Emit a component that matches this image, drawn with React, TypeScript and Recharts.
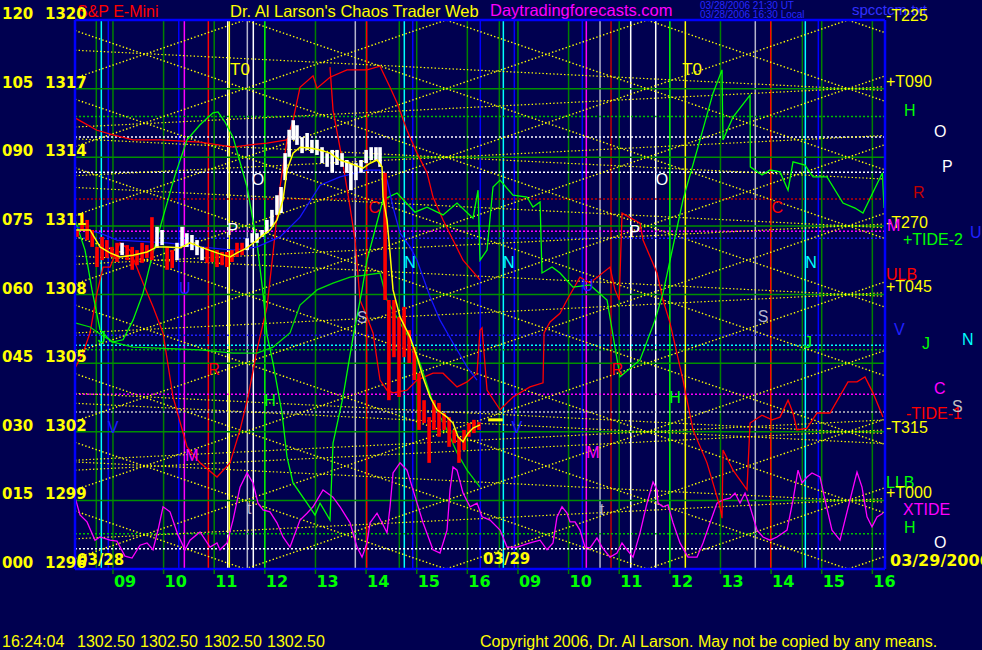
import React from 'react';
import { ComposedChart, XAxis, YAxis, Line, ReferenceLine, Scatter } from 'recharts';

const FONT = '"Liberation Sans", Arial, sans-serif';
const BOLD = '"DejaVu Sans", sans-serif';
const BG = '#000050';
const T_LEFT = 8.25;
const T_RIGHT = 24.25;

// ---- axes ----
const hourTicks = [9, 10, 11, 12, 13, 14, 15, 16, 17, 18, 19, 20, 21, 22, 23, 24];
const hourLabels = ['09', '10', '11', '12', '13', '14', '15', '16', '09', '10', '11', '12', '13', '14', '15', '16'];
const noonTicks = [12, 20];
const levels = [0, 15, 30, 45, 60, 75, 90, 105, 120];
const levelCodes = ['000', '015', '030', '045', '060', '075', '090', '105', '120'];
const levelPrices = ['1296', '1299', '1302', '1305', '1308', '1311', '1314', '1317', '1320'];
const levelTags = ['', '+T000', '-T315', '', '+T045', '-T270', '', '+T090', '-T225'];

// ---- price bars: [time, low, high, up] ----
const candles: [number, number, number, number][] = [
  [8.29, 72.6, 74.1, 0], [8.39, 74.1, 77.6, 0], [8.49, 71.9, 76.3, 0], [8.59, 70.4, 74.1, 0],
  [8.685, 66.0, 70.4, 0], [8.785, 67.5, 72.6, 0], [8.88, 68.0, 71.9, 0], [8.98, 68.2, 70.4, 0],
  [9.08, 67.1, 71.3, 0], [9.18, 68.6, 71.3, 1], [9.28, 67.5, 70.8, 0], [9.38, 65.4, 70.4, 0],
  [9.475, 66.4, 69.7, 0], [9.575, 66.9, 71.3, 0], [9.67, 68.0, 70.8, 0], [9.77, 67.5, 76.9, 0],
  [9.87, 70.2, 74.8, 1], [9.97, 70.8, 74.1, 1], [10.07, 65.4, 70.4, 0], [10.17, 65.8, 69.7, 0],
  [10.265, 67.5, 71.3, 1], [10.365, 70.4, 74.8, 1], [10.46, 70.4, 73.4, 1], [10.56, 69.7, 73.0, 1],
  [10.66, 68.6, 71.9, 1], [10.76, 67.5, 70.4, 1], [10.86, 66.9, 70.4, 0], [10.96, 67.1, 69.7, 0],
  [11.055, 66.0, 69.7, 0], [11.155, 66.4, 69.3, 0], [11.25, 66.0, 69.3, 0], [11.35, 67.1, 69.7, 0],
  [11.45, 68.2, 71.3, 0], [11.55, 68.6, 71.3, 0], [11.65, 69.7, 72.3, 1], [11.75, 71.3, 73.4, 1],
  [11.845, 71.3, 73.4, 1], [11.945, 72.6, 74.1, 1], [12.04, 73.4, 76.3, 1], [12.14, 74.8, 78.5, 1],
  [12.24, 77.4, 81.7, 1], [12.32, 77.8, 83.5, 1], [12.4, 85.0, 90.9, 1], [12.48, 90.1, 96.0, 1],
  [12.56, 93.8, 98.1, 1], [12.635, 92.7, 97.0, 1], [12.735, 90.9, 94.4, 1], [12.835, 91.6, 95.3, 1],
  [12.93, 90.9, 93.8, 1], [13.03, 90.5, 93.8, 1], [13.13, 88.7, 92.2, 1], [13.23, 87.9, 90.9, 1],
  [13.33, 86.6, 91.6, 1], [13.425, 88.3, 91.6, 1], [13.525, 87.9, 90.9, 1], [13.62, 86.6, 89.4, 1],
  [13.7, 82.8, 88.7, 1], [13.8, 85.0, 88.7, 1], [13.9, 86.6, 89.4, 1], [14.0, 88.7, 91.6, 1],
  [14.1, 89.4, 92.2, 1], [14.195, 89.4, 92.2, 1], [14.275, 87.9, 92.2, 1], [14.375, 58.8, 86.6, 0],
  [14.45, 36.9, 58.8, 0], [14.55, 46.3, 58.8, 0], [14.65, 37.6, 55.1, 0], [14.75, 46.3, 57.3, 0],
  [14.85, 45.0, 52.2, 0], [14.95, 41.3, 48.5, 0], [15.045, 30.4, 42.8, 0], [15.145, 31.9, 36.9, 0],
  [15.245, 23.2, 33.2, 0], [15.34, 30.4, 36.9, 0], [15.44, 28.9, 36.3, 0], [15.54, 30.4, 34.1, 0],
  [15.64, 26.7, 33.2, 0], [15.74, 27.5, 30.4, 0], [15.835, 23.2, 28.9, 0], [15.935, 26.0, 30.4, 0],
  [16.03, 28.9, 31.9, 0], [16.13, 29.7, 32.6, 0], [16.23, 30.4, 32.1, 0],
];

// ---- series: [time, value] ----
const smoothPrice: [number, number][] = [
  [8.25, 74.1], [8.547, 74.1], [8.744, 70.4], [8.942, 69.1], [9.139, 68.2], [9.396, 68.6], [9.673, 69.3],
  [9.87, 70.4], [10.068, 70.4], [10.325, 70.2], [10.522, 71.3], [10.72, 70.4], [11.055, 69.1], [11.312, 68.2],
  [11.45, 69.1], [11.648, 70.2], [11.845, 71.9], [11.964, 73.0], [12.102, 74.1], [12.24, 76.3], [12.359, 80.7],
  [12.438, 87.2], [12.557, 90.9], [12.695, 92.2], [12.892, 92.0], [13.09, 91.6], [13.287, 90.9], [13.485, 89.4],
  [13.683, 88.7], [13.939, 87.6], [14.078, 88.7], [14.216, 89.4], [14.315, 87.9], [14.334, 81.3], [14.413, 76.3],
  [14.473, 69.1], [14.532, 61.0], [14.67, 55.1], [14.868, 50.7], [15.006, 46.3], [15.125, 41.9], [15.263, 37.6],
  [15.401, 34.8], [15.599, 33.2], [15.717, 31.9], [15.816, 28.9], [15.915, 27.8], [16.013, 29.7], [16.112, 30.8],
  [16.25, 31.5],
];
const tide2: [number, number][] = [
  [8.25, 76.3], [8.448, 69.7], [8.586, 61.0], [8.744, 52.3], [8.981, 49.6], [9.199, 50.1], [9.396, 54.4],
  [9.594, 60.3], [9.791, 69.1], [9.989, 76.9], [10.226, 86.1], [10.463, 93.8], [10.72, 97.1], [10.976, 99.7],
  [11.075, 99.9], [11.213, 97.7], [11.371, 94.4], [11.648, 83.5], [11.845, 71.3], [11.964, 60.3], [12.043, 51.1],
  [12.162, 45.0], [12.339, 34.1], [12.438, 24.5], [12.557, 18.8], [12.833, 14.4], [12.991, 11.8], [13.09, 14.4],
  [13.287, 10.7], [13.347, 27.5], [13.544, 37.6], [13.742, 50.7], [13.92, 61.0], [14.018, 67.5], [14.334, 80.7],
  [14.611, 82.2], [14.966, 78.0], [15.204, 79.1], [15.52, 77.4], [15.796, 80.0], [16.112, 76.7], [16.211, 82.8],
  [16.25, 67.5], [16.389, 69.7], [16.507, 83.5], [16.646, 85.0], [16.902, 81.7], [17.179, 81.3], [17.297, 79.1],
  [17.436, 80.2], [17.475, 64.7], [17.673, 66.0], [17.831, 64.7], [18.087, 61.6], [18.423, 62.1], [18.759, 58.8],
  [19.016, 42.0], [19.411, 45.7], [19.707, 54.4], [19.865, 60.3], [20.26, 80.7], [20.596, 93.8], [20.853, 104.0],
  [21.031, 109.1], [21.04, 101.0], [21.05, 93.8], [21.248, 98.8], [21.584, 103.6], [21.59, 87.9], [21.821, 86.1],
  [21.979, 87.2], [22.176, 86.8], [22.335, 82.8], [22.433, 89.0], [22.67, 88.3], [22.828, 85.7], [23.104, 85.7],
  [23.42, 80.0], [23.658, 78.9], [23.815, 77.8], [24.2, 86.6], [24.23, 78.9],
];
const llb: [number, number][] = [
  [8.25, 53.8], [8.547, 52.9], [8.685, 51.8], [9.001, 49.6], [9.396, 48.5], [10.72, 47.9], [11.371, 47.2],
  [11.845, 47.2], [12.162, 48.5], [12.497, 51.6], [12.695, 57.7], [13.031, 61.0], [13.347, 62.5], [13.683, 63.8],
  [14.275, 64.7], [14.413, 58.8], [14.67, 53.8], [14.868, 50.1], [15.065, 45.0], [15.322, 36.3], [15.599, 30.4],
  [15.796, 25.4], [15.994, 21.6], [16.25, 17.9],
];
const tide1a: [number, number][] = [
  [8.25, 43.9], [8.408, 47.2], [8.547, 51.6], [8.685, 60.3], [8.804, 66.0], [8.942, 66.0], [9.139, 71.3],
  [9.337, 69.7], [9.594, 62.5], [9.791, 57.3], [9.989, 51.6], [10.186, 37.6], [10.463, 26.7], [10.72, 23.2],
  [11.055, 20.1], [11.312, 23.2], [11.51, 30.4], [11.668, 37.6], [11.845, 47.9], [12.043, 57.3], [12.162, 69.1],
  [12.3, 83.5], [12.438, 93.8], [12.557, 98.1], [12.695, 105.3], [12.952, 107.8], [13.031, 105.1], [13.287, 107.5],
  [13.623, 109.1], [14.018, 109.1], [14.275, 109.9], [14.473, 105.3], [14.611, 101.9], [14.808, 95.9],
  [15.006, 90.9], [15.204, 86.6], [15.322, 81.3], [15.52, 76.3], [15.717, 71.9], [15.915, 67.5], [16.25, 63.2],
];
const ulb: [number, number][] = [
  [8.25, 98.6], [8.685, 95.9], [9.001, 94.9], [9.396, 93.8], [9.93, 93.8], [10.72, 93.3], [11.371, 92.2],
  [11.707, 92.7], [12.043, 93.1], [12.438, 93.8],
];
const tide1b: [number, number][] = [
  [13.287, 109.7], [13.347, 100.3], [13.544, 88.5], [13.683, 79.1], [13.782, 71.9], [13.88, 58.8], [14.018, 55.1],
  [14.137, 51.6], [14.275, 41.3], [14.413, 39.1], [14.532, 38.5], [14.808, 39.1], [15.006, 41.3], [15.322, 42.8],
  [15.52, 42.8], [15.796, 39.8], [15.994, 40.9], [16.191, 42.8], [16.25, 52.2], [16.29, 52.7], [16.389, 39.1],
  [16.646, 34.8], [16.902, 37.6], [17.238, 39.8], [17.495, 40.7], [17.515, 51.6], [17.633, 54.0], [17.831, 55.9],
  [17.969, 58.8], [18.225, 63.8], [18.423, 62.5], [18.818, 66.0], [18.917, 61.0], [19.0, 58.8], [19.056, 77.8],
  [19.411, 75.6], [19.47, 71.9], [19.747, 64.7], [19.865, 58.8], [20.003, 53.8], [20.26, 41.3], [20.458, 30.4],
  [20.734, 23.2], [20.991, 13.6], [21.031, 11.1], [21.05, 26.0], [21.248, 21.6], [21.524, 17.3], [21.584, 31.9],
  [21.821, 33.6], [22.018, 32.6], [22.176, 33.2], [22.335, 36.9], [22.433, 34.1], [22.512, 30.4], [22.71, 30.8],
  [22.907, 34.1], [23.164, 34.1], [23.519, 40.9], [23.697, 40.9], [23.855, 42.0], [24.013, 38.5], [24.21, 33.2],
];
const blueCycle: [number, number][] = [
  [8.25, 74.8], [8.744, 73.4], [9.08, 71.9], [10.068, 71.3], [10.72, 70.4], [11.371, 69.7], [11.845, 70.4],
  [12.3, 72.6], [12.695, 76.9], [13.09, 83.9], [13.485, 85.7], [14.018, 87.2], [14.275, 87.2], [14.413, 85.0],
  [14.532, 79.1], [14.67, 73.4], [14.868, 70.4], [15.006, 67.5], [15.125, 63.8], [15.263, 59.5], [15.46, 54.4],
  [15.717, 49.4], [15.994, 44.2], [16.191, 41.3],
];
const xtide: [number, number][] = [
  [8.25, 15.7], [8.349, 11.8], [8.487, 10.3], [8.645, 6.3], [8.744, 7.0], [8.942, 6.3], [9.08, 6.1], [9.238, 2.8],
  [9.376, 2.4], [9.534, 5.2], [9.673, 5.7], [9.791, 4.2], [9.89, 8.5], [9.989, 13.6], [10.127, 12.5], [10.285, 7.4],
  [10.423, 4.2], [10.522, 6.3], [10.72, 8.1], [10.917, 4.8], [11.055, 5.7], [11.115, 4.2], [11.253, 5.7],
  [11.371, 10.7], [11.51, 17.9], [11.648, 21.0], [11.766, 18.8], [11.865, 14.4], [11.964, 12.9], [12.102, 12.5],
  [12.24, 10.1], [12.359, 7.0], [12.497, 4.8], [12.695, 10.7], [12.833, 12.2], [12.952, 13.6], [13.149, 17.3],
  [13.347, 15.7], [13.485, 13.6], [13.683, 10.1], [13.821, 4.8], [13.92, 2.6], [14.018, 5.7], [14.078, 10.1],
  [14.216, 12.2], [14.315, 10.1], [14.413, 7.9], [14.473, 13.6], [14.532, 21.0], [14.67, 23.2], [14.808, 21.6],
  [14.927, 17.3], [15.125, 10.1], [15.322, 4.2], [15.46, 3.5], [15.599, 8.5], [15.658, 17.3], [15.717, 22.3],
  [15.796, 21.6], [15.915, 16.6], [16.053, 13.6], [16.191, 14.4], [16.29, 11.4], [16.448, 10.7], [16.646, 8.5],
  [16.784, 4.8], [16.981, 4.8], [17.238, 5.7], [17.436, 6.3], [17.574, 4.2], [17.692, 5.7], [17.771, 11.4],
  [17.87, 13.6], [17.969, 12.2], [18.028, 10.3], [18.127, 10.3], [18.225, 8.5], [18.324, 4.8], [18.423, 4.6],
  [18.561, 6.8], [18.66, 4.8], [18.818, 2.6], [18.956, 3.5], [19.055, 5.7], [19.154, 4.2], [19.273, 2.6],
  [19.411, 7.9], [19.549, 14.4], [19.668, 19.0], [19.747, 17.3], [19.766, 14.4], [19.865, 13.6], [19.964, 14.0],
  [20.063, 10.1], [20.2, 5.7], [20.359, 2.6], [20.537, 2.6], [20.655, 5.7], [20.794, 10.1], [20.932, 14.4],
  [21.05, 15.1], [21.189, 15.5], [21.287, 16.6], [21.386, 14.4], [21.485, 16.6], [21.584, 13.6], [21.722, 8.5],
  [21.84, 7.0], [21.979, 6.3], [22.117, 7.0], [22.315, 8.5], [22.433, 15.1], [22.532, 21.6], [22.611, 18.8],
  [22.71, 20.1], [22.808, 21.0], [22.966, 20.1], [23.065, 15.1], [23.203, 8.5], [23.361, 6.3], [23.559, 15.1],
  [23.697, 21.2], [23.796, 17.9], [23.895, 11.4], [23.993, 9.2], [24.092, 11.4], [24.21, 12.2],
];

// ---- time lines (vertical) ----
const darkGreenTimes = [8.671, 14.656, 16.632, 22.617];
const cyanTimes = [8.77, 14.755, 16.711, 22.676];
const blueTimes = [8.908, 10.3, 14.921, 16.256, 16.928, 18.271, 22.933];
const magentaTimes = [10.41, 18.35];
const redTimes = [10.884, 14.012, 21.993];
const darkRedTimes = [18.838];
const whiteTimes = [11.267, 11.772, 19.227, 19.721];
const grayTimes = [11.654, 13.787, 18.621, 21.688];
const t0Times = [11.298, 20.306];

// ---- planet price levels (horizontal) ----
const greenLevels = [98.9, 47.9, 7.7];
const greenNames = ['H', 'J', 'H'];
const whiteLevels = [94.4, 86.7, 4.4];
const whiteNames = ['O', 'P', 'O'];
const redLevels = [80.9];
const redNames = ['R'];
const magentaLevels = [73.8, 38.2];
const magentaNames = ['M', 'C'];
const blueLevels = [72.3, 51.1];
const blueNames = ['U', 'V'];
const cyanLevels = [48.9];
const cyanNames = ['N'];
const grayLevels = [34.3];
const grayNames = ['S'];

// ---- time/price lattice: [value at left edge, value at right edge] ----
const risingLines: [number, number][] = [
  [-57.69, 2.76], [-42.69, 17.76], [-27.69, 32.76], [-12.69, 47.76], [2.31, 62.76], [17.31, 77.76],
  [32.31, 92.76], [47.31, 107.76], [62.31, 122.76], [77.31, 137.76], [92.31, 152.76], [107.31, 167.76],
];
const fallingLines: [number, number][] = [
  [12.69, -47.76], [27.69, -32.76], [42.69, -17.76], [57.69, -2.76], [72.69, 12.24], [87.69, 27.24],
  [102.69, 42.24], [117.69, 57.24], [132.69, 72.24], [147.69, 87.24], [162.69, 102.24], [177.69, 117.24],
];
const shallowLines: [number, number][] = [
  [96.6, 105.4], [113.4, 104.6], [66.6, 75.4], [83.4, 74.6], [51.6, 60.4], [68.4, 59.6],
  [21.6, 30.4], [38.4, 29.6], [6.6, 15.4], [23.4, 14.6], [85.97, 94.77], [94.03, 85.23],
  [23.78, 32.58], [36.22, 27.42],
];

// ---- chart letters ----
type Mark = { t: number; v: number; s: string };
const yellowMarks: Mark[] = [{ t: 11.51, v: 109.1, s: 'T0' }, { t: 20.44, v: 109.1, s: 'T0' }];
const whiteMarks: Mark[] = [
  { t: 11.865, v: 85.2, s: 'O' }, { t: 19.846, v: 85.2, s: 'O' }, { t: 11.37, v: 74.1, s: 'P' }, { t: 19.31, v: 73.7, s: 'P' },
];
const grayMarks: Mark[] = [
  { t: 13.92, v: 54.9, s: 'S' }, { t: 21.84, v: 55.3, s: 'S' }, { t: 11.69, v: 13.3, s: 't' }, { t: 18.66, v: 12.9, s: 't' },
];
const cyanMarks: Mark[] = [{ t: 14.87, v: 67.1, s: 'N' }, { t: 16.82, v: 67.1, s: 'N' }, { t: 22.79, v: 67.1, s: 'N' }];
const magentaMarks: Mark[] = [{ t: 10.56, v: 24.9, s: 'M' }, { t: 18.48, v: 25.4, s: 'M' }];
const greenMarks: Mark[] = [
  { t: 12.1, v: 36.9, s: 'H' }, { t: 20.1, v: 37.4, s: 'H' }, { t: 8.78, v: 50.7, s: 'J' }, { t: 22.73, v: 49.6, s: 'J' },
];
const redMarks: Mark[] = [
  { t: 10.996, v: 43.5, s: 'R' }, { t: 18.96, v: 43.5, s: 'R' }, { t: 14.16, v: 79.1, s: 'C' }, { t: 22.12, v: 79.1, s: 'C' },
];
const blueMarks: Mark[] = [
  { t: 9.0, v: 31.0, s: 'V' }, { t: 16.98, v: 31.0, s: 'V' }, { t: 10.42, v: 61.4, s: 'U' }, { t: 18.38, v: 62.0, s: 'U' },
];
const dateMarks: Mark[] = [{ t: 8.29, v: 2.0, s: '03/28' }, { t: 16.31, v: 2.2, s: '03/29' }];
const lastPrice = { t0: 16.41, t1: 16.7, v: 32.6 };

// ---- layout (pixel offsets for right-side labels) ----
const tagDy: Record<string, number> = { '-T225': -5, '+T090': -7, '-T270': -3, '+T045': -8, '-T315': -4, '+T000': -8 };
const letterDx: Record<string, number> = { H: 24, O: 54, P: 62, R: 33, M: 7, U: 90, V: 14, N: 82, J: 42, C: 54, S: 72 };

const pts = (a: [number, number][]) => a.map(([t, v]) => ({ t, v }));

const XTick = (p: any) => {
  const i = hourTicks.indexOf(p.payload.value);
  return (
    <text x={p.x + 1} y={p.y + 11} fill="#00ff00" fontFamily={BOLD} fontWeight="bold" fontSize={16}>
      {hourLabels[i]}
    </text>
  );
};
const YTick = (p: any) => {
  const i = levels.indexOf(p.payload.value);
  return (
    <g>
      <text x={2} y={p.y - 1} fill="#ffff00" fontFamily={BOLD} fontWeight="bold" fontSize={15}>{levelCodes[i]}</text>
      <text x={45} y={p.y - 1} fill="#ffff00" fontFamily={BOLD} fontWeight="bold" fontSize={15}>{levelPrices[i]}</text>
    </g>
  );
};

const rightLabel = (text: string, color: string, dx: number, dy: number, anchor: string = 'start') => (p: any) => {
  const vb = p && p.viewBox ? p.viewBox : { x: 75, y: 0, width: 810 };
  return (
    <text x={vb.x + vb.width + dx} y={vb.y + dy} fill={color} fontFamily={FONT} fontSize={16}
      textAnchor={anchor as any} dominantBaseline="central">{text}</text>
  );
};

const textShape = (color: string, size: number, anchor: string, family: string = FONT, weight: string = 'normal') => (p: any) => (
  <text x={p.cx} y={p.cy} fill={color} fontSize={size} fontFamily={family} fontWeight={weight}
    textAnchor={anchor as any} dominantBaseline="central">{p.payload.s}</text>
);

const series = (key: string, data: [number, number][], color: string, width: number) => (
  <Line key={key} data={pts(data)} dataKey="v" type="linear" stroke={color} strokeWidth={width}
    dot={false} activeDot={false} isAnimationActive={false} legendType="none" />
);
const candleEl = (key: string, c: [number, number, number, number]) => (
  <Line key={key} data={[{ t: c[0], v: c[1] }, { t: c[0], v: c[2] }]} dataKey="v" type="linear"
    stroke={c[3] ? '#ffffff' : '#ff0000'} strokeWidth={3.6} strokeLinecap="butt"
    dot={false} activeDot={false} isAnimationActive={false} legendType="none" />
);
const lattice = (key: string, ends: [number, number], width = 1.4) => (
  <Line key={key} data={[{ t: T_LEFT, v: ends[0] }, { t: T_RIGHT, v: ends[1] }]} dataKey="v" type="linear"
    stroke="#ffff00" strokeWidth={width} strokeDasharray="1.4 2.2" dot={false} activeDot={false}
    isAnimationActive={false} legendType="none" />
);
const vline = (key: string, t: number, color: string, w = 1.5) => (
  <ReferenceLine key={key} x={t} stroke={color} strokeWidth={w} />
);
const hdots = (key: string, v: number, color: string, name: string) => (
  <ReferenceLine key={key} y={v} stroke={color} strokeWidth={1.5} strokeDasharray="2 2"
    label={rightLabel(name, color === '#00c000' ? '#00ff00' : color, letterDx[name] - 5, -6)} />
);

export default function App() {
  return (
    <div style={{ position: 'fixed', left: 0, top: 0, width: 982, height: 650, background: BG, overflow: 'hidden' }}>
      <svg width={982} height={650} style={{ position: 'absolute', left: 0, top: 0 }}>
        <text x={77} y={17} fill="#ff0000" fontFamily={FONT} fontSize={16}>S&amp;P E-Mini</text>
        <text x={230} y={17} fill="#ffff00" fontFamily={FONT} fontSize={16.5}>Dr. Al Larson's Chaos Trader Web</text>
        <text x={490} y={16} fill="#ff00ff" fontFamily={FONT} fontSize={16.5}>Daytradingforecasts.com</text>
        <text x={700} y={9} fill="#2828ff" fontFamily={FONT} fontSize={10}>03/28/2006 21:30 UT</text>
        <text x={700} y={18} fill="#2828ff" fontFamily={FONT} fontSize={10}>03/28/2006 16:30 Local</text>
        <text x={852} y={15} fill="#3030ff" fontFamily={FONT} fontSize={15}>spcctcm.txt</text>
        <text x={903} y={239} fill="#00ff00" fontFamily={FONT} fontSize={16} dominantBaseline="central">+TIDE-2</text>
        <text x={886} y={274} fill="#ff0000" fontFamily={FONT} fontSize={16} dominantBaseline="central">ULB</text>
        <text x={906} y={413} fill="#ff0000" fontFamily={FONT} fontSize={16} dominantBaseline="central">-TIDE-1</text>
        <text x={886} y={482} fill="#00ff00" fontFamily={FONT} fontSize={16} dominantBaseline="central">LLB</text>
        <text x={903} y={509} fill="#ff00ff" fontFamily={FONT} fontSize={16} dominantBaseline="central">XTIDE</text>
        <text x={890} y={566} fill="#ffff00" fontFamily={BOLD} fontWeight="bold" fontSize={16}>03/29/2006</text>
        <text x={2} y={647} fill="#ffff00" fontFamily={FONT} fontSize={16}>16:24:04</text>
        <text x={77} y={647} fill="#ffff00" fontFamily={FONT} fontSize={16}>1302.50</text>
        <text x={140} y={647} fill="#ffff00" fontFamily={FONT} fontSize={16}>1302.50</text>
        <text x={204} y={647} fill="#ffff00" fontFamily={FONT} fontSize={16}>1302.50</text>
        <text x={267} y={647} fill="#ffff00" fontFamily={FONT} fontSize={16}>1302.50</text>
        <text x={480} y={647} fill="#ffff00" fontFamily={FONT} fontSize={16}>Copyright 2006, Dr. Al Larson. May not be copied by any means.</text>
      </svg>
      <div style={{ position: 'absolute', left: 0, top: 0 }}>
        <ComposedChart width={982} height={650} margin={{ top: 20, right: 97, bottom: 51, left: 0 }}>
          <XAxis type="number" dataKey="t" domain={[T_LEFT, T_RIGHT]} ticks={hourTicks} allowDataOverflow
            height={30} axisLine={false} tickLine={{ stroke: '#008000', strokeWidth: 1.5 }} tickSize={5} tick={<XTick />} interval={0} />
          <YAxis type="number" domain={[0, 120]} ticks={levels} allowDataOverflow width={75}
            axisLine={false} tickLine={false} tick={<YTick />} interval={0} />

          {hourTicks.filter((h) => noonTicks.indexOf(h) < 0).map((h) => vline('h' + h, h, '#008000'))}
          {noonTicks.map((h) => vline('n' + h, h, '#00ff00'))}
          {darkGreenTimes.map((t, i) => vline('dg' + i, t, '#008000'))}
          {cyanTimes.map((t, i) => vline('cy' + i, t, '#00ffff'))}
          {blueTimes.map((t, i) => vline('bl' + i, t, '#0000ff'))}
          {magentaTimes.map((t, i) => vline('mg' + i, t, '#ff00ff'))}
          {redTimes.map((t, i) => vline('rd' + i, t, '#ff0000'))}
          {darkRedTimes.map((t, i) => vline('dr' + i, t, '#c00000'))}
          {whiteTimes.map((t, i) => vline('wh' + i, t, '#ffffff'))}
          {grayTimes.map((t, i) => vline('gy' + i, t, '#b4b4cc'))}
          {t0Times.map((t, i) => vline('t0' + i, t, '#ffff00'))}

          {levels.map((v, i) => (
            <ReferenceLine key={'g' + v} y={v} stroke="#009000" strokeWidth={1.5}
              label={levelTags[i] ? rightLabel(levelTags[i], '#ffff00', 1, tagDy[levelTags[i]]) : undefined} />
          ))}

          {greenLevels.map((v, i) => hdots('gl' + i, v, '#00c000', greenNames[i]))}
          {whiteLevels.map((v, i) => hdots('wl' + i, v, '#ffffff', whiteNames[i]))}
          {redLevels.map((v, i) => hdots('rl' + i, v, '#c00000', redNames[i]))}
          {magentaLevels.map((v, i) => hdots('ml' + i, v, '#ff00ff', magentaNames[i]))}
          {blueLevels.map((v, i) => hdots('bll' + i, v, '#2020ff', blueNames[i]))}
          {cyanLevels.map((v, i) => hdots('cl' + i, v, '#00ffff', cyanNames[i]))}
          {grayLevels.map((v, i) => hdots('gyl' + i, v, '#c0c0c0', grayNames[i]))}

          {risingLines.map((e, i) => lattice('ru' + i, e))}
          {fallingLines.map((e, i) => lattice('fd' + i, e))}
          {shallowLines.map((e, i) => lattice('sh' + i, e, 1.2))}

          {series('xtide', xtide, '#ff00ff', 1.3)}
          {series('ulb', ulb, '#ff0000', 1.3)}
          {series('tide1a', tide1a, '#ff0000', 1.3)}
          {series('tide1b', tide1b, '#ff0000', 1.3)}
          {series('llb', llb, '#00e000', 1.3)}
          {series('tide2', tide2, '#00ff00', 1.3)}
          {series('blue', blueCycle, '#1414ff', 1.3)}

          {candles.map((c, i) => candleEl('c' + i, c))}
          {series('smooth', smoothPrice, '#ffff00', 1.5)}

          <ReferenceLine segment={[{ x: lastPrice.t0, y: lastPrice.v }, { x: lastPrice.t1, y: lastPrice.v }]}
            stroke="#ffff00" strokeWidth={3} />

          <Scatter data={yellowMarks} dataKey="v" isAnimationActive={false} shape={textShape('#ffff00', 17, 'middle')} />
          <Scatter data={whiteMarks} dataKey="v" isAnimationActive={false} shape={textShape('#ffffff', 16, 'middle')} />
          <Scatter data={grayMarks} dataKey="v" isAnimationActive={false} shape={textShape('#b4b4cc', 16, 'middle')} />
          <Scatter data={cyanMarks} dataKey="v" isAnimationActive={false} shape={textShape('#00ffff', 16, 'middle')} />
          <Scatter data={magentaMarks} dataKey="v" isAnimationActive={false} shape={textShape('#ff00ff', 16, 'middle')} />
          <Scatter data={greenMarks} dataKey="v" isAnimationActive={false} shape={textShape('#00ff00', 16, 'middle')} />
          <Scatter data={redMarks} dataKey="v" isAnimationActive={false} shape={textShape('#ff0000', 16, 'middle')} />
          <Scatter data={blueMarks} dataKey="v" isAnimationActive={false} shape={textShape('#2020ff', 16, 'middle')} />
          <Scatter data={dateMarks} dataKey="v" isAnimationActive={false} shape={textShape('#ffff00', 15, 'start', BOLD, 'bold')} />

          <ReferenceLine x={T_LEFT} stroke="#0000ff" strokeWidth={2.5} />
          <ReferenceLine x={T_RIGHT} stroke="#0000ff" strokeWidth={2.5} />
          <ReferenceLine y={120} stroke="#0000ff" strokeWidth={2.5} />
          <ReferenceLine y={0} stroke="#0000ff" strokeWidth={2.5} />
        </ComposedChart>
      </div>
    </div>
  );
}
